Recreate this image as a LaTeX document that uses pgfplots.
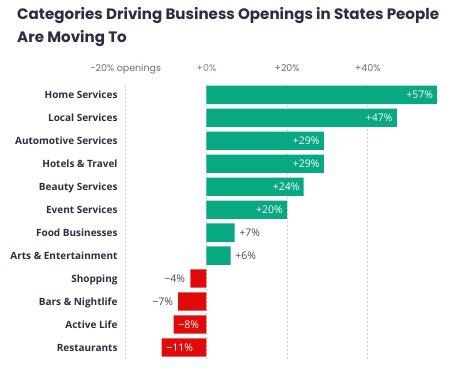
\documentclass[border=0pt]{standalone}
\usepackage{pgfplots}
\pgfplotsset{compat=1.18}
\usepackage{fontspec}
\setmainfont{Open Sans}
\newfontfamily\poppins{Poppins}
\definecolor{grn}{HTML}{07A882}
\definecolor{rd}{HTML}{E00A0A}
\definecolor{navy}{HTML}{2B2D42}
\definecolor{tickgray}{HTML}{6E6E78}
\definecolor{zerocol}{HTML}{A57A5A}
\definecolor{valgray}{HTML}{4A4A55}
\begin{document}
\begin{tikzpicture}
\path[use as bounding box] (0,0) rectangle (460pt,378pt);
\node[anchor=base west, inner sep=0pt, font=\poppins\bfseries\fontsize{15.1}{18}\selectfont, text=navy] at (17pt,358.7pt) {Categories Driving Business Openings in States People};
\node[anchor=base west, inner sep=0pt, font=\poppins\bfseries\fontsize{15.1}{18}\selectfont, text=navy] at (17pt,335.7pt) {Are Moving To};
\begin{axis}[
  at={(125.7pt,19.3pt)}, anchor=south west,
  scale only axis, width=314.7pt, height=273.7pt,
  xmin=-20, xmax=58, ymin=-0.43, ymax=11.49, y dir=reverse,
  axis line style={draw=none}, major tick length=0pt,
  xtick={-20,0,20,40},
  xticklabels={−20\% openings, \textcolor{zerocol}{+0\%}, +20\%, +40\%},
  xticklabel pos=upper,
  xticklabel style={anchor=base, yshift=14pt, font=\poppins\fontsize{9.5}{10}\selectfont, text=tickgray},
  ytick={0,...,11},
  yticklabels={Home Services, Local Services, Automotive Services, Hotels \& Travel, Beauty Services, Event Services, Food Businesses, Arts \& Entertainment, Shopping, Bars \& Nightlife, Active Life, Restaurants},
  yticklabel style={anchor=base east, inner sep=0pt, xshift=-8pt, yshift=-3.6pt, font=\bfseries\fontsize{10}{12}\selectfont, text=navy},
  xmajorgrids, grid style={dash pattern=on 2pt off 2pt, color=black!18, line width=0.6pt},
  xbar, bar width=18.3pt, bar shift=0pt,
  point meta=explicit symbolic,
  nodes near coords,
  every node near coord/.append style={font=\fontsize{10.5}{12}\selectfont, inner sep=0pt},
]
\addplot[fill=grn, draw=none, nodes near coords style={anchor=east, xshift=-4pt, text=white}] coordinates {
(57.2,0) [+57\%]
(47.2,1) [+47\%]
(29.1,2) [+29\%]
(29.1,3) [+29\%]
(24.1,4) [+24\%]
(20.0,5) [+20\%]
};
\addplot[fill=grn, draw=none, nodes near coords style={anchor=west, xshift=4.5pt, text=valgray}] coordinates {
(7.0,6) [+7\%]
(6.0,7) [+6\%]
};
\addplot[fill=rd, draw=none, nodes near coords style={anchor=east, xshift=-5pt, text=valgray}] coordinates {
(-4.0,8) [−4\%]
(-7.0,9) [−7\%]
};
\addplot[fill=rd, draw=none, nodes near coords style={anchor=west, xshift=4.5pt, text=white}] coordinates {
(-8.1,10) [−8\%]
(-11.1,11) [−11\%]
};
\end{axis}
\end{tikzpicture}
\end{document}
